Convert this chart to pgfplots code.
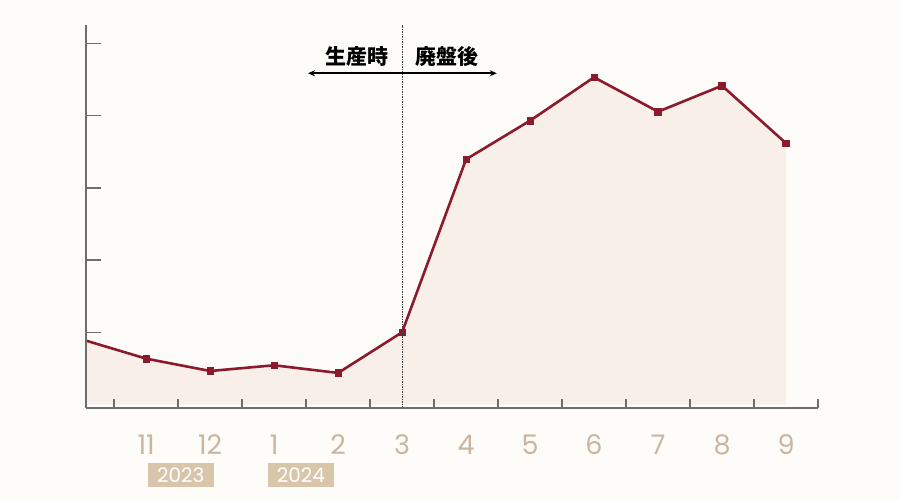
\documentclass[border=0pt]{standalone}
\usepackage{fontspec}
\setmainfont{Poppins}
\newfontfamily\cjk{Noto Sans CJK JP}
\usepackage{pgfplots}
\pgfplotsset{compat=1.18}
\usetikzlibrary{arrows.meta}
\definecolor{bg}{RGB}{253,252,248}
\definecolor{linec}{RGB}{139,26,44}
\definecolor{fillc}{RGB}{248,240,232}
\definecolor{tickc}{RGB}{200,182,163}
\definecolor{yearc}{RGB}{217,198,170}
\definecolor{axisc}{RGB}{110,110,110}
\begin{document}
\begin{tikzpicture}[x=1pt,y=1pt]
\fill[bg] (0,0) rectangle (900,500);
\begin{axis}[
  at={(86pt,92.3pt)}, anchor=south west,
  scale only axis, width=732pt, height=382.7pt,
  xmin=0.06, xmax=11.5, ymin=-0.044, ymax=5.253,
  axis x line*=bottom, axis y line*=left,
  axis line style={axisc, line width=1.8pt},
  axis on top,
  clip mode=individual,
  tick align=inside,
  xtick={0.5,1.5,...,11.5},
  xticklabels={,11,12,1,2,3,4,5,6,7,8,9},
  xticklabel style={anchor=center, xshift=-32pt, yshift=-36.8pt, text=tickc, font=\fontsize{27}{27}\selectfont},
  major tick length=9pt,
  ytick=\empty,
  extra y ticks={1,2,3,4,5},
  extra y tick labels={},
  extra y tick style={major tick length=15pt},
  tick style={axisc, line width=1.5pt},
  /pgf/number format/assume math mode=true,
]
\addplot[fill=fillc, draw=none] coordinates {
(0,0.90) (1,0.635) (2,0.464) (3,0.543) (4,0.437) (5,1.0)
(6,3.394) (7,3.929) (8,4.529) (9,4.053) (10,4.413) (11,3.616)
} \closedcycle;
\addplot[linec, line width=2.6pt, mark=square*, mark size=3.3pt, mark indices={1,...,11}, mark options={solid, fill=linec, line width=0.5pt}] coordinates {
(0,0.90) (1,0.635) (2,0.464) (3,0.543) (4,0.437) (5,1.0)
(6,3.394) (7,3.929) (8,4.529) (9,4.053) (10,4.413) (11,3.616)
};
\draw[black!75, line width=0.9pt, dash pattern=on 1.5pt off 1pt] (axis cs:5,-0.044) -- (axis cs:5,5.253);
\draw[{Stealth[length=7pt,width=6pt]}-{Stealth[length=7pt,width=6pt]}, black, line width=1.8pt] (axis cs:3.53,4.585) -- (axis cs:6.48,4.585);
\node[font=\cjk\bfseries\fontsize{21}{21}\selectfont, anchor=center] at (axis cs:4.30,4.817) {生産時};
\node[font=\cjk\bfseries\fontsize{21}{21}\selectfont, anchor=center] at (axis cs:5.70,4.817) {廃盤後};
\node[fill=yearc, text=white, minimum width=66pt, minimum height=24pt, inner sep=0pt, font=\fontsize{20}{20}\selectfont] at (axis cs:1.54,-0.975) {2023};
\node[fill=yearc, text=white, minimum width=66pt, minimum height=24pt, inner sep=0pt, font=\fontsize{20}{20}\selectfont] at (axis cs:3.42,-0.975) {2024};
\end{axis}
\end{tikzpicture}
\end{document}
